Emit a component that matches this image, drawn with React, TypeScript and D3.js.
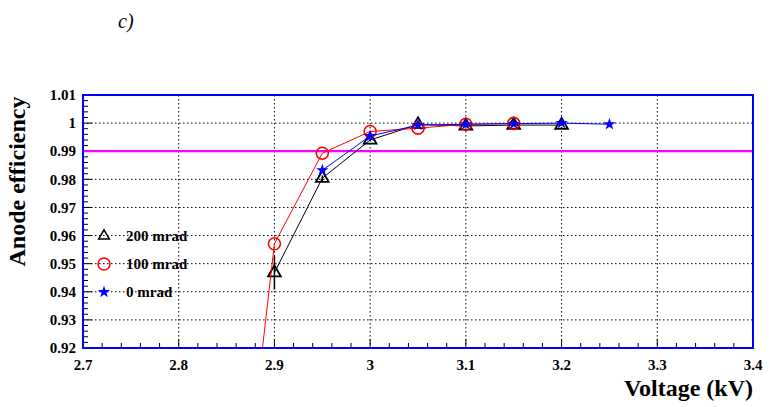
import * as d3 from 'd3';

// voltage (kV)
const volts200 = [2.9, 2.95, 3.0, 3.05, 3.1, 3.15, 3.2];
const eff200 = [0.9468, 0.9804, 0.9940, 0.9995, 0.9990, 0.9993, 0.9993];
const err200 = [0.006, 0.001, 0.0005, 0, 0, 0, 0];

const volts100 = [2.85, 2.9, 2.95, 3.0, 3.05, 3.1, 3.15];
const eff100 = [0.8086, 0.9571, 0.9893, 0.9970, 0.9982, 0.9996, 0.9999];

const volts0 = [2.95, 3.0, 3.05, 3.1, 3.15, 3.2, 3.25];
const eff0 = [0.9832, 0.9954, 0.9993, 0.9996, 0.9998, 1.0, 0.9996];

const legendLabels = ['200 mrad', '100 mrad', '0 mrad'];
const threshold = 0.99;

const xTicks = [2.7, 2.8, 2.9, 3.0, 3.1, 3.2, 3.3, 3.4];
const yTicks = [0.92, 0.93, 0.94, 0.95, 0.96, 0.97, 0.98, 0.99, 1.0, 1.01];

export default function App() {
  const width = 770;
  const height = 407;
  const margin = { top: 95, right: 17, bottom: 59, left: 83 };

  const x = d3.scaleLinear().domain([2.7, 3.4]).range([margin.left, width - margin.right]);
  const y = d3.scaleLinear().domain([0.92, 1.01]).range([height - margin.bottom, margin.top]);

  const xMinor = d3.range(0, 36).map(i => 2.7 + i * 0.02);
  const yMinor = d3.range(0, 46).map(i => 0.92 + i * 0.002);

  const font = "'Liberation Serif', 'DejaVu Serif', serif";

  const line = d3.line<[number, number]>().x(d => x(d[0])).y(d => y(d[1]));

  const tri = d3.symbol().type(d3.symbolTriangle).size(70);
  const star = d3.symbol().type(d3.symbolStar).size(48);

  const pts200 = volts200.map((v, i) => [v, eff200[i]] as [number, number]);
  const pts100 = volts100.map((v, i) => [v, eff100[i]] as [number, number]);
  const pts0 = volts0.map((v, i) => [v, eff0[i]] as [number, number]);

  const x0 = x.range()[0], x1 = x.range()[1];
  const y0 = y.range()[1], y1 = y.range()[0];

  return (
    <svg width={width} height={height} style={{ position: 'absolute', left: 0, top: 0, background: '#fff', fontFamily: font }}>
      <defs>
        <clipPath id="plot">
          <rect x={x0} y={y0} width={x1 - x0} height={y1 - y0} />
        </clipPath>
      </defs>

      <text x={118} y={28} style={{ fontFamily: font }} fontStyle="italic" fontSize={20}>c)</text>

      {/* grid */}
      {xTicks.slice(1, -1).map(t => (
        <line key={'gx' + t} x1={x(t)} x2={x(t)} y1={y0} y2={y1} stroke="#000" strokeDasharray="1.5,2.5" />
      ))}
      {yTicks.slice(1, -1).map(t => (
        <line key={'gy' + t} x1={x0} x2={x1} y1={y(t)} y2={y(t)} stroke="#000" strokeDasharray="1.5,2.5" />
      ))}

      {/* ticks */}
      {xMinor.map((t, i) => (
        <line key={'tx' + i} x1={x(t)} x2={x(t)} y1={y1} y2={y1 - (i % 5 === 0 ? 9 : 5)} stroke="#000" />
      ))}
      {yMinor.map((t, i) => (
        <line key={'ty' + i} x1={x0} x2={x0 + (i % 5 === 0 ? 9 : 5)} y1={y(t)} y2={y(t)} stroke="#000" />
      ))}

      <line x1={x0} x2={x1} y1={y(threshold)} y2={y(threshold)} stroke="#ff00ff" strokeWidth={2.2} />

      <g clipPath="url(#plot)">
        <path d={line(pts200) || ''} fill="none" stroke="#000" strokeWidth={1} />
        {pts200.map((p, i) => (
          <g key={'a' + i}>
            <line x1={x(p[0])} x2={x(p[0])} y1={y(p[1] - err200[i])} y2={y(p[1] + err200[i])} stroke="#000" strokeWidth={1.5} />
            <path d={tri() || ''} transform={`translate(${x(p[0])},${y(p[1])})`} fill="none" stroke="#000" strokeWidth={1.8} />
          </g>
        ))}
        <path d={line(pts100) || ''} fill="none" stroke="#ff0000" strokeWidth={1} />
        {pts100.map((p, i) => (
          <circle key={'b' + i} cx={x(p[0])} cy={y(p[1])} r={6} fill="none" stroke="#ff0000" strokeWidth={1.6} />
        ))}
        <path d={line(pts0) || ''} fill="none" stroke="#0000ff" strokeWidth={1} />
        {pts0.map((p, i) => (
          <path key={'c' + i} d={star() || ''} transform={`translate(${x(p[0])},${y(p[1])})`} fill="#0000ff" />
        ))}
      </g>

      {/* frame */}
      <rect x={x0} y={y0} width={x1 - x0} height={y1 - y0} fill="none" stroke="#0000ff" strokeWidth={2} />

      {/* tick labels */}
      {yTicks.map(t => (
        <text key={'ly' + t} x={x0 - 7} y={y(t)} dy="0.35em" textAnchor="end" style={{ fontFamily: font }} fontWeight="bold" fontSize={15}>
          {d3.format('')(+t.toFixed(2))}
        </text>
      ))}
      {xTicks.map(t => (
        <text key={'lx' + t} x={x(t)} y={y1 + 22} textAnchor="middle" style={{ fontFamily: font }} fontWeight="bold" fontSize={15}>
          {d3.format('')(+t.toFixed(1))}
        </text>
      ))}

      <text transform={`translate(25,${(93 + 270) / 2}) rotate(-90)`} textAnchor="middle" style={{ fontFamily: font }} fontWeight="bold" fontSize={24}>
        Anode efficiency
      </text>
      <text x={x1} y={396} textAnchor="end" style={{ fontFamily: font }} fontWeight="bold" fontSize={24}>
        Voltage (kV)
      </text>

      {/* legend */}
      {legendLabels.map((lab, i) => {
        const ly = 236 + i * 28;
        return (
          <g key={'lg' + i}>
            {i === 0 && <path d={d3.symbol().type(d3.symbolTriangle).size(50)() || ''} transform={`translate(104,${ly})`} fill="none" stroke="#000" strokeWidth={1.5} />}
            {i === 1 && <circle cx={104} cy={ly} r={6} fill="none" stroke="#ff0000" strokeWidth={1.5} />}
            {i === 2 && <path d={star() || ''} transform={`translate(104,${ly})`} fill="#0000ff" />}
            <text x={126} y={ly} dy="0.35em" style={{ fontFamily: font }} fontWeight="bold" fontSize={15}>{lab}</text>
          </g>
        );
      })}
    </svg>
  );
}
